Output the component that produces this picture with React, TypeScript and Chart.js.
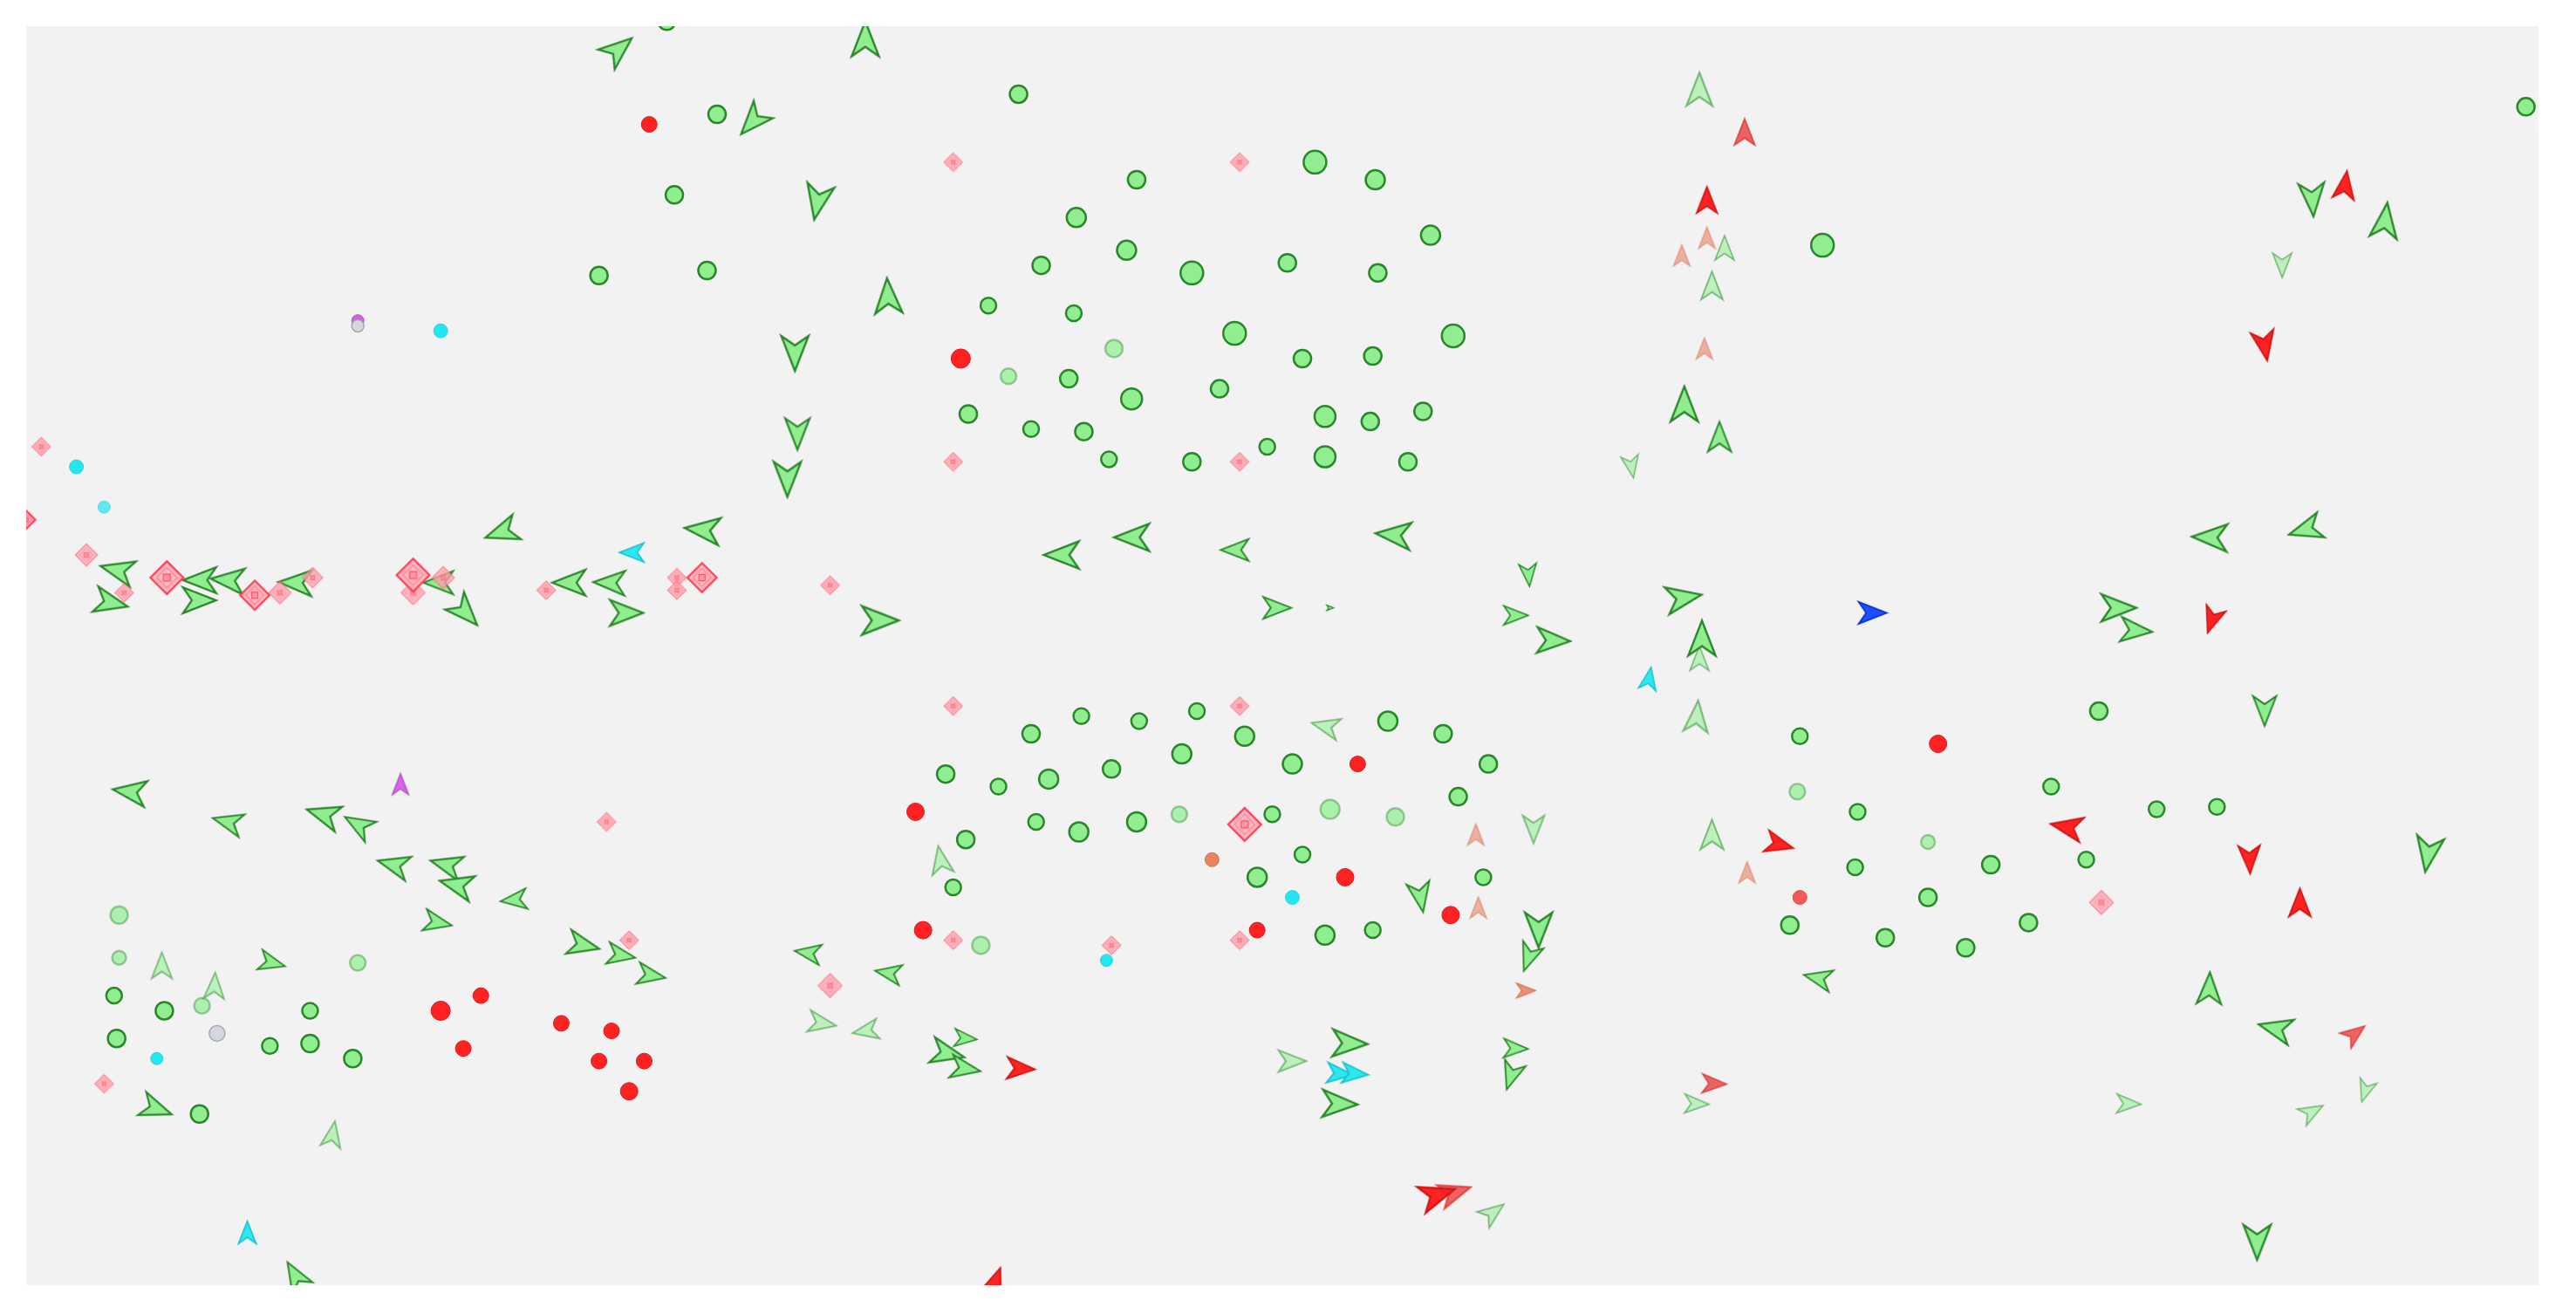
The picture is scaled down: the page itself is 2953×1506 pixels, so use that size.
import { useEffect, useRef } from 'react';
import { Chart, registerables } from 'chart.js';

Chart.register(...registerables);

// Site extent in metres (x east, y north)
const EXTENT_X: [number, number] = [0, 100];
const EXTENT_Y: [number, number] = [0, 50];

// ---------- Stations: [x, y, load] ----------
const stationsActive: [number, number, number][] = [
  [25.5, 50.2, 6], [27.5, 46.5, 6], [25.8, 43.3, 6], [22.8, 40.1, 6], [27.1, 40.3, 6],
  [39.5, 47.3, 6], [51.3, 44.6, 9], [53.7, 43.9, 7], [44.2, 43.9, 6], [41.8, 42.4, 7],
  [55.9, 41.7, 7], [43.8, 41.1, 7], [40.4, 40.5, 6], [46.4, 40.2, 9], [50.2, 40.6, 6],
  [53.8, 40.2, 6], [38.3, 38.9, 5], [41.7, 38.6, 5], [48.1, 37.8, 9], [56.8, 37.7, 9],
  [50.8, 36.8, 6], [53.6, 36.9, 6], [41.5, 36.0, 6], [44.0, 35.2, 8], [47.5, 35.6, 6],
  [37.5, 34.6, 6], [51.7, 34.5, 8], [53.5, 34.3, 6], [55.6, 34.7, 6], [40.0, 34.0, 5],
  [42.1, 33.9, 6], [49.4, 33.3, 5], [43.1, 32.8, 5], [46.4, 32.7, 6], [51.7, 32.9, 8],
  [55.0, 32.7, 6], [71.5, 41.3, 9], [99.5, 46.8, 6],
  [42.0, 22.6, 5], [44.3, 22.4, 5], [46.6, 22.8, 5], [40.0, 21.9, 6], [48.5, 21.8, 7],
  [54.2, 22.4, 7], [56.4, 21.9, 6], [46.0, 21.1, 7], [50.4, 20.7, 7], [58.2, 20.7, 6],
  [36.6, 20.3, 6], [40.7, 20.1, 7], [43.2, 20.5, 6], [38.7, 19.8, 5], [57.0, 19.4, 6],
  [40.2, 18.4, 5], [41.9, 18.0, 7], [44.2, 18.4, 7], [49.6, 18.7, 5], [37.4, 17.7, 6],
  [50.8, 17.1, 5], [49.0, 16.2, 7], [58.0, 16.2, 5], [36.9, 15.8, 5], [51.7, 13.9, 7],
  [53.6, 14.1, 5],
  [82.5, 22.8, 6], [70.6, 21.8, 5], [80.6, 19.8, 5], [72.9, 18.8, 5], [84.8, 18.9, 5],
  [87.2, 19.0, 5], [72.8, 16.6, 5], [78.2, 16.7, 6], [82.0, 16.9, 5], [75.7, 15.4, 6],
  [70.2, 14.3, 6], [79.7, 14.4, 6], [74.0, 13.8, 6], [77.2, 13.4, 6],
  [5.5, 10.9, 6], [11.3, 10.9, 5], [3.5, 11.5, 5], [3.6, 9.8, 6], [9.7, 9.5, 5],
  [11.3, 9.6, 6], [13.0, 9.0, 6], [6.9, 6.8, 6],
];
const stationsIdle: [number, number, number][] = [
  [43.3, 37.2, 6], [39.1, 36.1, 5], [45.9, 18.7, 5], [51.9, 18.9, 7], [54.5, 18.6, 6],
  [38.0, 13.5, 6], [70.5, 19.6, 5], [75.7, 17.6, 4], [3.7, 14.7, 6], [3.7, 13.0, 4],
  [13.2, 12.8, 5], [7.0, 11.1, 5],
];
const alarms: [number, number, number][] = [
  [24.8, 46.1, 5], [37.2, 36.8, 7], [53.0, 20.7, 5], [35.4, 18.8, 6], [52.5, 16.2, 6],
  [35.7, 14.1, 6], [49.0, 14.1, 5], [56.7, 14.7, 6], [76.1, 21.5, 6], [16.5, 10.9, 7],
  [18.1, 11.5, 5], [21.3, 10.4, 5], [23.3, 10.1, 5], [17.4, 9.4, 5], [22.8, 8.9, 5],
  [24.6, 8.9, 5], [24.0, 7.7, 6],
];
const alarmsCleared: [number, number, number][] = [[70.6, 15.4, 4]];
const probesCyan: [number, number, number][] = [
  [16.5, 37.9, 4], [2.0, 32.5, 4], [50.4, 15.4, 4], [43.0, 12.9, 3], [5.2, 9.0, 3],
];
const probesCyanIdle: [number, number, number][] = [[3.1, 30.9, 3]];
const probesOffline: [number, number, number][] = [[13.2, 38.1, 3], [7.6, 10.0, 5]];
const probesMagenta: [number, number, number][] = [[13.2, 38.3, 3]];
const probesOrange: [number, number, number][] = [[47.2, 16.9, 4]];

// ---------- Moving units: [x, y, heading (deg, clockwise from north), speed] ----------
const unitsGreen: [number, number, number, number][] = [
  [23.6, 49.1, 50, 19], [33.4, 49.5, 0, 20], [28.9, 46.2, 222, 19], [31.5, 43.0, 191, 20],
  [34.3, 39.3, 357, 20], [30.6, 37.0, 180, 20], [30.7, 33.8, 180, 18], [30.3, 32.0, 180, 20],
  [18.9, 29.9, 251, 19], [26.9, 30.0, 276, 20], [3.6, 28.4, 284, 19], [3.4, 27.1, 103, 19],
  [6.9, 28.0, 270, 19], [6.9, 27.2, 90, 19], [8.0, 28.0, 275, 19], [10.7, 27.9, 272, 19],
  [16.4, 27.9, 270, 17], [17.5, 26.7, 137, 19], [21.6, 27.9, 270, 19], [23.2, 27.9, 272, 18],
  [23.9, 26.7, 90, 19], [34.0, 26.4, 90, 21], [4.1, 19.6, 278, 19], [8.0, 18.4, 285, 17],
  [11.8, 18.7, 287, 19], [13.2, 18.3, 300, 17], [14.6, 16.7, 285, 18], [16.7, 16.7, 285, 18],
  [17.1, 15.9, 284, 19], [19.4, 15.3, 264, 15], [16.4, 14.4, 102, 16], [22.2, 13.5, 103, 18],
  [23.7, 13.1, 100, 16], [24.9, 12.3, 100, 16], [9.8, 12.8, 105, 15], [5.2, 7.0, 110, 18],
  [10.7, 0.4, 330, 17], [31.1, 13.2, 279, 15], [41.2, 29.0, 270, 20], [44.0, 29.7, 270, 20],
  [48.1, 29.2, 270, 16], [54.4, 29.8, 275, 20], [59.8, 28.2, 175, 13], [66.0, 27.3, 80, 20],
  [66.7, 25.7, 0, 20], [49.8, 26.9, 90, 16], [51.9, 26.9, 90, 4], [59.3, 26.6, 90, 14],
  [60.8, 25.6, 92, 19], [66.0, 35.0, 0, 20], [67.4, 33.7, 0, 17], [55.5, 15.4, 170, 17],
  [60.2, 14.1, 180, 20], [59.8, 13.0, 200, 16], [34.3, 12.4, 280, 15], [37.4, 9.8, 95, 13],
  [36.7, 9.2, 103, 19], [37.4, 8.6, 100, 17], [52.7, 9.6, 92, 20], [52.3, 7.2, 92, 20],
  [59.3, 9.4, 92, 14], [59.1, 8.3, 198, 16], [86.9, 29.7, 272, 20], [90.7, 30.0, 253, 19],
  [83.3, 26.9, 90, 20], [84.0, 26.0, 95, 18], [89.1, 22.8, 180, 17], [95.6, 17.1, 189, 20],
  [71.3, 12.2, 283, 16], [86.9, 11.8, 2, 18], [89.5, 10.2, 284, 19], [88.8, 1.7, 180, 20],
  [91.0, 43.1, 176, 19], [93.9, 42.3, 7, 20],
];
const unitsGreenStale: [number, number, number, number][] = [
  [66.6, 47.5, 0, 19], [67.6, 41.2, 0, 14], [67.1, 39.7, 0, 16], [63.9, 32.5, 170, 13],
  [66.6, 24.9, 0, 14], [66.5, 22.6, 5, 18], [51.7, 22.2, 284, 16], [36.4, 16.9, 350, 16],
  [60.0, 18.1, 180, 16], [67.1, 17.9, 0, 17], [31.7, 10.4, 100, 16], [33.4, 10.1, 260, 15],
  [50.4, 8.9, 90, 16], [66.5, 7.2, 92, 14], [58.4, 2.9, 53, 15], [83.7, 7.2, 92, 14],
  [93.1, 7.7, 198, 13], [91.0, 6.9, 61, 14], [89.8, 40.5, 180, 14], [5.4, 12.7, 0, 15],
  [7.5, 11.9, 3, 15], [12.2, 6.0, 10, 15],
];
const unitsRed: [number, number, number, number][] = [
  [66.9, 43.1, 0, 15], [39.6, 8.6, 93, 16], [87.0, 26.4, 199, 15], [92.3, 43.7, 8, 16],
  [89.1, 37.3, 170, 17], [81.2, 18.2, 281, 18], [88.5, 16.9, 178, 16], [90.5, 15.2, 0, 16],
  [69.8, 17.5, 105, 16], [56.2, 3.6, 72, 20], [38.6, 0.2, 20, 15],
];
const unitsRedStale: [number, number, number, number][] = [
  [68.4, 45.8, 0, 15], [67.2, 8.0, 92, 14], [92.7, 10.0, 53, 14], [56.9, 3.7, 72, 18],
];
const unitsSalmon: [number, number, number, number][] = [
  [66.9, 41.6, 0, 12], [65.9, 40.9, 0, 12], [66.8, 37.2, 0, 12], [57.7, 17.9, 0, 12],
  [57.8, 15.0, 0, 12], [68.5, 16.4, 0, 12],
];
const unitsCoral: [number, number, number, number][] = [[59.7, 11.7, 90, 11]];
const unitsCyan: [number, number, number, number][] = [
  [24.1, 29.1, 270, 14], [64.6, 24.1, 10, 13], [52.3, 8.4, 95, 15], [52.9, 8.4, 95, 15],
  [8.8, 2.1, 0, 13],
];
const unitsBlue: [number, number, number, number][] = [[73.5, 26.7, 90, 16]];
const unitsMagenta: [number, number, number, number][] = [[14.9, 19.9, 0, 12]];

// ---------- Beacons: [x, y, range] ----------
const beaconsPrimary: [number, number, number][] = [
  [5.6, 28.1, 9], [15.4, 28.2, 9], [26.9, 28.1, 8], [48.5, 18.3, 9], [9.1, 27.4, 8], [0.0, 30.4, 5],
];
const beaconsSecondary: [number, number, number][] = [
  [2.4, 29.0, 6], [15.4, 27.5, 6.5], [16.6, 28.1, 6], [10.1, 27.5, 6], [11.4, 28.1, 5.5],
  [32.0, 11.9, 6.5], [82.6, 15.2, 6.5],
  [0.6, 33.3, 5], [3.9, 27.5, 5], [20.7, 27.6, 5], [25.9, 28.1, 5], [25.9, 27.6, 5],
  [32.0, 27.8, 5], [23.1, 18.4, 5], [24.0, 13.7, 5], [3.1, 8.0, 5], [36.9, 44.6, 5],
  [48.3, 44.6, 5], [36.9, 32.7, 5], [48.3, 32.7, 5], [36.9, 23.0, 5], [48.3, 23.0, 5],
  [36.9, 13.7, 5], [48.3, 13.7, 5], [43.2, 13.5, 5],
];

type Look = { fill: string; stroke: string; alpha: number };

const ARROW_LOOKS: Record<string, Look> = {
  green: { fill: '#90ee90', stroke: '#2a862a', alpha: 1 },
  greenStale: { fill: '#90ee90', stroke: '#2a862a', alpha: 0.55 },
  red: { fill: '#ff2222', stroke: '#d41414', alpha: 1 },
  redStale: { fill: '#f04848', stroke: '#d83a3a', alpha: 0.85 },
  salmon: { fill: '#eba48f', stroke: '#dc8d78', alpha: 0.85 },
  coral: { fill: '#ec8a70', stroke: '#d87055', alpha: 0.95 },
  cyan: { fill: '#2ee6ef', stroke: '#18c4cf', alpha: 1 },
  blue: { fill: '#1e4fff', stroke: '#0a34d6', alpha: 1 },
  magenta: { fill: '#d664e6', stroke: '#b84ac9', alpha: 1 },
};

const sprites = new Map<string, HTMLCanvasElement>();

// Notched arrowhead pointing north, centred on the canvas
function arrowSprite(len: number, look: Look): HTMLCanvasElement {
  const key = `arrow|${len}|${look.fill}|${look.alpha}`;
  const cached = sprites.get(key);
  if (cached) return cached;
  const w = len * 0.78;
  const notch = len * 0.27;
  const pad = 7;
  const c = document.createElement('canvas');
  c.width = Math.ceil(w + pad * 2);
  c.height = Math.ceil(len + pad * 2);
  const g = c.getContext('2d')!;
  const cx = c.width / 2;
  const cy = c.height / 2;
  g.globalAlpha = look.alpha;
  g.beginPath();
  g.moveTo(cx, cy - len / 2);
  g.lineTo(cx + w / 2, cy + len / 2);
  g.lineTo(cx, cy + len / 2 - notch);
  g.lineTo(cx - w / 2, cy + len / 2);
  g.closePath();
  g.fillStyle = look.fill;
  g.fill();
  g.lineWidth = Math.max(1.2, len / 17);
  g.lineJoin = 'miter';
  g.miterLimit = 4;
  g.strokeStyle = look.stroke;
  g.stroke();
  sprites.set(key, c);
  return c;
}

// Beacon marker: outlined diamond with an inner diamond and a small square core
function beaconSprite(r: number, primary: boolean): HTMLCanvasElement {
  const key = `beacon|${r}|${primary}`;
  const cached = sprites.get(key);
  if (cached) return cached;
  const size = Math.ceil(r * 2 + 8);
  const c = document.createElement('canvas');
  c.width = size;
  c.height = size;
  const g = c.getContext('2d')!;
  const m = size / 2;
  const diamond = (h: number) => {
    g.beginPath();
    g.moveTo(m, m - h);
    g.lineTo(m + h, m);
    g.lineTo(m, m + h);
    g.lineTo(m - h, m);
    g.closePath();
  };
  g.globalAlpha = primary ? 1 : 0.82;
  diamond(r);
  g.fillStyle = primary ? 'rgba(255,178,188,0.95)' : 'rgba(255,160,172,0.85)';
  g.fill();
  g.lineWidth = primary ? 2.2 : 1.5;
  g.strokeStyle = primary ? '#ff3d58' : 'rgba(255,110,130,0.8)';
  g.stroke();
  diamond(r * 0.62);
  g.lineWidth = 1.2;
  g.strokeStyle = primary ? 'rgba(255,120,138,0.85)' : 'rgba(255,140,155,0.6)';
  g.stroke();
  const s = Math.max(3, r * 0.42);
  g.fillStyle = primary ? 'rgba(255,150,162,0.9)' : 'rgba(255,125,140,0.9)';
  g.fillRect(m - s / 2, m - s / 2, s, s);
  g.lineWidth = 1.2;
  g.strokeStyle = primary ? '#ff4a64' : 'rgba(255,100,120,0.8)';
  g.strokeRect(m - s / 2, m - s / 2, s, s);
  sprites.set(key, c);
  return c;
}

function circleSet(
  label: string,
  rows: [number, number, number][],
  bg: string,
  border: string,
  borderWidth: number,
  order: number,
) {
  return {
    label,
    data: rows.map(([x, y, l]) => ({ x, y, l })),
    backgroundColor: bg,
    borderColor: border,
    borderWidth,
    pointStyle: 'circle',
    pointRadius: (c: any) => (c.raw ? c.raw.l + 4 : 0),
    pointHoverRadius: (c: any) => (c.raw ? c.raw.l + 4 : 0),
    order,
    clip: 0,
  };
}

function arrowSet(label: string, rows: [number, number, number, number][], look: Look, order: number) {
  return {
    label,
    data: rows.map(([x, y, h, s]) => ({ x, y, h, s })),
    pointStyle: (c: any) => (c.raw ? arrowSprite(c.raw.s * 2, look) : 'circle'),
    rotation: (c: any) => (c.raw ? c.raw.h : 0),
    pointRadius: (c: any) => (c.raw ? c.raw.s : 0),
    pointHoverRadius: (c: any) => (c.raw ? c.raw.s : 0),
    backgroundColor: look.fill,
    borderColor: look.stroke,
    order,
    clip: 0,
  };
}

function beaconSet(label: string, rows: [number, number, number][], primary: boolean, order: number) {
  return {
    label,
    data: rows.map(([x, y, r]) => ({ x, y, r })),
    pointStyle: (c: any) => (c.raw ? beaconSprite(c.raw.r * 2.1, primary) : 'circle'),
    pointRadius: (c: any) => (c.raw ? c.raw.r * 2 : 0),
    pointHoverRadius: (c: any) => (c.raw ? c.raw.r * 2 : 0),
    backgroundColor: '#ffb2bc',
    borderColor: '#ff3d58',
    order,
    clip: 0,
  };
}

const plotBackground = {
  id: 'plotBackground',
  beforeDraw(chart: Chart) {
    const { ctx, chartArea: a } = chart;
    ctx.save();
    ctx.fillStyle = '#f2f2f2';
    ctx.fillRect(a.left, a.top, a.right - a.left, a.bottom - a.top);
    ctx.restore();
  },
};

export default function App() {
  const canvasRef = useRef<HTMLCanvasElement>(null);

  useEffect(() => {
    const canvas = canvasRef.current;
    if (!canvas) return;
    const chart = new Chart(canvas, {
      type: 'scatter',
      data: {
        datasets: [
          beaconSet('Beacons', beaconsPrimary, true, 0),
          beaconSet('Beacons (secondary)', beaconsSecondary, false, 1),
          arrowSet('Units blue', unitsBlue, ARROW_LOOKS.blue, 2),
          arrowSet('Units cyan', unitsCyan, ARROW_LOOKS.cyan, 2),
          arrowSet('Units magenta', unitsMagenta, ARROW_LOOKS.magenta, 2),
          arrowSet('Units red', unitsRed, ARROW_LOOKS.red, 2),
          arrowSet('Units red (stale)', unitsRedStale, ARROW_LOOKS.redStale, 2),
          arrowSet('Units coral', unitsCoral, ARROW_LOOKS.coral, 2),
          arrowSet('Units green', unitsGreen, ARROW_LOOKS.green, 3),
          arrowSet('Units green (stale)', unitsGreenStale, ARROW_LOOKS.greenStale, 3),
          arrowSet('Units salmon', unitsSalmon, ARROW_LOOKS.salmon, 4),
          circleSet('Alarms', alarms, '#ff2222', '#e21818', 1, 5),
          circleSet('Alarms cleared', alarmsCleared, '#f05a5a', '#e04a4a', 1, 5),
          circleSet('Probes', probesCyan, '#22e6f0', '#3ccfd8', 1, 5),
          circleSet('Probes idle', probesCyanIdle, 'rgba(34,230,240,0.7)', 'rgba(60,207,216,0.6)', 1, 5),
          circleSet('Probes offline', probesOffline, '#d5d7de', '#a6a8b4', 1.5, 5),
          circleSet('Probes magenta', probesMagenta, '#d45fe0', '#c04ccc', 1, 6),
          circleSet('Probes orange', probesOrange, '#e8845e', '#d8734e', 1, 5),
          circleSet('Stations', stationsActive, '#90ee90', '#2a862a', 2.5, 7),
          circleSet('Stations idle', stationsIdle, 'rgba(144,238,144,0.7)', 'rgba(42,134,42,0.4)', 2.5, 7),
        ],
      },
      options: {
        animation: false,
        responsive: true,
        maintainAspectRatio: false,
        events: [],
        layout: { padding: { left: 22, top: 22, right: 35, bottom: 25 } },
        scales: {
          x: { type: 'linear', min: EXTENT_X[0], max: EXTENT_X[1], display: false },
          y: { type: 'linear', min: EXTENT_Y[0], max: EXTENT_Y[1], display: false },
        },
        plugins: {
          legend: { display: false },
          tooltip: { enabled: false },
        },
      } as any,
      plugins: [plotBackground],
    });
    return () => chart.destroy();
  }, []);

  return (
    <div style={{ position: 'relative', width: 2937, height: 1490 }}>
      <canvas ref={canvasRef} />
    </div>
  );
}
